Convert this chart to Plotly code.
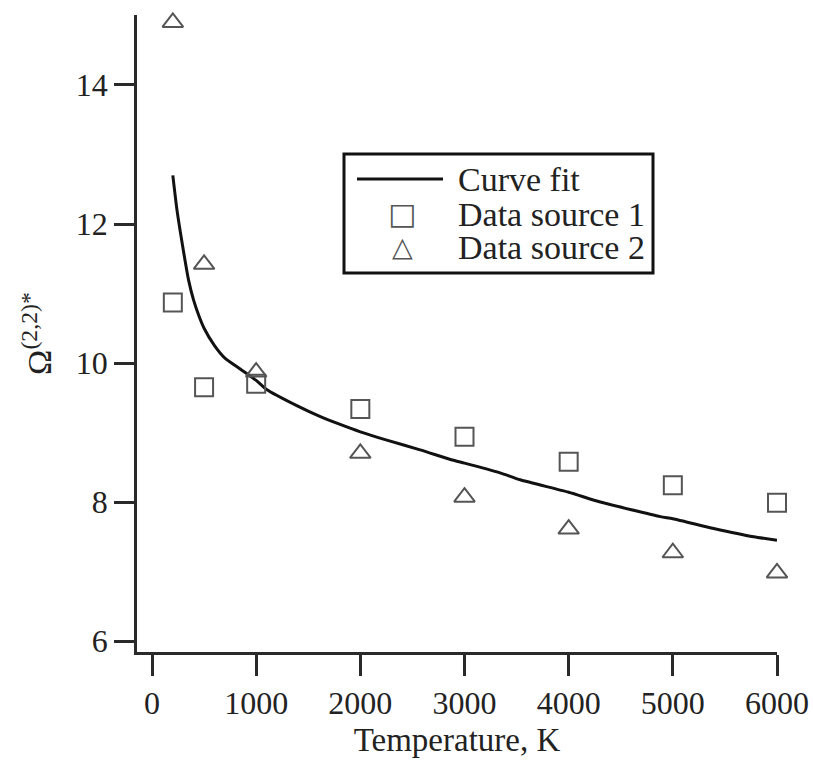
import plotly.graph_objects as go

# Curve fit
fit_T = [200, 240, 300, 350, 400, 450, 500, 600, 700, 850, 1000, 1100, 1400,
         1600, 1800, 2000, 2254, 2574, 2894, 3000, 3342, 3535, 4000, 4304,
         4880, 5000, 5392, 5776, 6000]
fit_O = [12.70, 12.20, 11.63, 11.20, 10.90, 10.68, 10.50, 10.25, 10.07, 9.91,
         9.75, 9.62, 9.38, 9.24, 9.12, 9.01, 8.89, 8.75, 8.60, 8.56, 8.42, 8.32,
         8.14, 8.00, 7.79, 7.76, 7.62, 7.50, 7.45]

# Data source 1 (squares)
ds1_T = [200, 500, 1000, 2000, 3000, 4000, 5000, 6000]
ds1_O = [10.87, 9.65, 9.70, 9.34, 8.94, 8.58, 8.24, 7.99]

# Data source 2 (triangles)
ds2_T = [200, 500, 1000, 2000, 3000, 4000, 5000, 6000]
ds2_O = [14.90, 11.42, 9.87, 8.70, 8.07, 7.61, 7.27, 6.98]

x_ticks = [0, 1000, 2000, 3000, 4000, 5000, 6000]
y_ticks = [6, 8, 10, 12, 14]

legend_labels = ["Curve fit", "Data source 1", "Data source 2"]

FONT = "Liberation Serif"
AX = "#2a2a2a"
MK = "#555555"

fig = go.Figure()
fig.add_trace(go.Scatter(x=fit_T, y=fit_O, mode="lines", name=legend_labels[0],
                         line=dict(color="#111111", width=3, shape="spline",
                                   smoothing=0.6),
                         cliponaxis=False, showlegend=False))
fig.add_trace(go.Scatter(x=ds1_T, y=ds1_O, mode="markers", name=legend_labels[1],
                         marker=dict(symbol="square-open", size=18, color=MK,
                                     line=dict(color=MK, width=2)),
                         cliponaxis=False, showlegend=False))
fig.add_trace(go.Scatter(x=ds2_T, y=ds2_O, mode="markers", name=legend_labels[2],
                         marker=dict(symbol="triangle-up-open", size=18, color=MK,
                                     line=dict(color=MK, width=2)),
                         cliponaxis=False, showlegend=False))

# ---- custom legend (paper coordinates) ----
L, R, T, B = 137, 777, 15, 652
def px(x):
    return (x - L) / (R - L)
def py(y):
    return (B - y) / (B - T)

shapes = [
    dict(type="rect", xref="paper", yref="paper",
         x0=px(344), x1=px(653), y0=py(273), y1=py(154),
         line=dict(color="#111111", width=3), fillcolor="white", layer="above"),
    dict(type="line", xref="paper", yref="paper",
         x0=px(357), x1=px(443), y0=py(179), y1=py(179),
         line=dict(color="#111111", width=3), layer="above"),
]
row_y = [179, 214, 248]
annotations = []
for lab, yy in zip(legend_labels, row_y):
    annotations.append(dict(xref="paper", yref="paper", x=px(456), y=py(yy),
                            text=lab, showarrow=False, xanchor="left",
                            yanchor="middle",
                            font=dict(family=FONT, size=34, color="#222222")))
annotations.append(dict(xref="paper", yref="paper", x=px(402), y=py(213),
                        text="□", showarrow=False, xanchor="center",
                        yanchor="middle",
                        font=dict(family="DejaVu Sans", size=30, color=MK)))
annotations.append(dict(xref="paper", yref="paper", x=px(402), y=py(246),
                        text="△", showarrow=False, xanchor="center",
                        yanchor="middle",
                        font=dict(family="DejaVu Sans", size=27, color=MK)))

fig.update_layout(
    width=813, height=760,
    margin=dict(l=L, r=813 - R, t=T, b=760 - B),
    paper_bgcolor="white", plot_bgcolor="white",
    font=dict(family=FONT, size=32, color="#222222"),
    showlegend=False,
    shapes=shapes,
    annotations=annotations,
    xaxis=dict(range=[-144, 6000], tickvals=x_ticks,
               ticktext=[str(v) for v in x_ticks], automargin=False,
               showgrid=False, zeroline=False, showline=True,
               linecolor=AX, linewidth=2.5, ticks="outside", ticklen=21,
               tickwidth=2.5, tickcolor=AX,
               title=dict(text="Temperature, K", standoff=8,
                          font=dict(family=FONT, size=33))),
    yaxis=dict(range=[5.842, 15.007], tickvals=y_ticks,
               ticktext=[str(v) for v in y_ticks], automargin=False,
               showgrid=False, zeroline=False, showline=True,
               linecolor=AX, linewidth=2.5, ticks="outside", ticklen=20,
               tickwidth=2.5, tickcolor=AX,
               title=dict(text="Ω<sup>(2,2)*</sup>", standoff=14,
                          font=dict(family=FONT, size=34))),
)

fig.write_html("out.html")
